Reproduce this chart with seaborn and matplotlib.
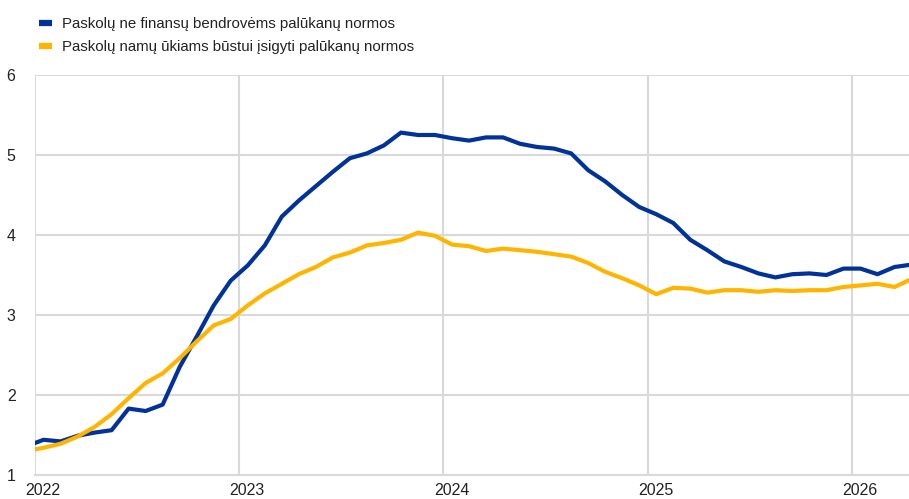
import numpy as np
import pandas as pd
import matplotlib
matplotlib.use("Agg")
import matplotlib.pyplot as plt
import matplotlib.transforms as mtransforms
from matplotlib.lines import Line2D
import seaborn as sns

# Monthly observations, Dec 2021 .. Apr 2026 (plotted mid-month)
start_year = 2021
start_month = 12
blue_label = "Paskolų ne finansų bendrovėms palūkanų normos"
yellow_label = "Paskolų namų ūkiams būstui įsigyti palūkanų normos"

blue_values = [1.36,
    1.44, 1.42, 1.49, 1.53, 1.56, 1.83, 1.80, 1.88, 2.35, 2.73, 3.12, 3.43,
    3.62, 3.87, 4.23, 4.43, 4.61, 4.79, 4.96, 5.02, 5.12, 5.28, 5.25, 5.25,
    5.21, 5.18, 5.22, 5.22, 5.14, 5.10, 5.08, 5.02, 4.81, 4.67, 4.50, 4.35,
    4.26, 4.15, 3.94, 3.81, 3.67, 3.60, 3.52, 3.47, 3.51, 3.52, 3.50, 3.58,
    3.58, 3.51, 3.60, 3.63]
yellow_values = [1.30,
    1.34, 1.39, 1.48, 1.60, 1.76, 1.96, 2.15, 2.27, 2.46, 2.67, 2.87, 2.95,
    3.12, 3.27, 3.39, 3.51, 3.60, 3.72, 3.78, 3.87, 3.90, 3.94, 4.03, 3.99,
    3.88, 3.86, 3.80, 3.83, 3.81, 3.79, 3.76, 3.73, 3.65, 3.54, 3.46, 3.37,
    3.26, 3.34, 3.33, 3.28, 3.31, 3.31, 3.29, 3.31, 3.30, 3.31, 3.31, 3.35,
    3.37, 3.39, 3.35, 3.45]
year_ticks = [2022, 2023, 2024, 2025, 2026]
y_ticks = [1, 2, 3, 4, 5, 6]

n = len(blue_values)
months = np.arange(n)
x = start_year + (start_month - 1 + months + 0.5) / 12.0

df = pd.DataFrame({
    "x": np.concatenate([x, x]),
    "value": blue_values + yellow_values,
    "series": [blue_label] * n + [yellow_label] * n,
})

sns.set_theme(style="white")
plt.rcParams["font.family"] = ["Liberation Sans", "DejaVu Sans"]

fig = plt.figure(figsize=(9.09, 4.99), dpi=100)
ax = fig.add_axes([35 / 909, 24 / 499, 1 - 35 / 909, 400 / 499])

palette = {blue_label: "#003299", yellow_label: "#FFB400"}
sns.lineplot(data=df, x="x", y="value", hue="series", palette=palette,
             linewidth=3.0, ax=ax, legend=False, clip_on=True)

ax.set_xlim(2022, 2026 + 3.35 / 12)
ax.set_ylim(1, 6)
ax.set_xticks(year_ticks)
ax.set_xticklabels([str(t) for t in year_ticks])
ax.set_yticks(y_ticks)
ax.set_yticklabels([str(t) for t in y_ticks])
ax.set_xlabel("")
ax.set_ylabel("")
ax.grid(True, color="#d9d9d9", linewidth=1.5)
ax.set_axisbelow(True)
for s in ["top", "right", "left"]:
    ax.spines[s].set_visible(False)
ax.spines["bottom"].set_color("#d9d9d9")
ax.spines["bottom"].set_linewidth(1.5)
ax.tick_params(axis="both", length=0, labelsize=11.5, colors="#222222")
ax.tick_params(axis="y", pad=14)
ax.tick_params(axis="x", pad=6)
offset = mtransforms.ScaledTranslation(8 / 100, 0, fig.dpi_scale_trans)
for lab in ax.get_xticklabels():
    lab.set_transform(lab.get_transform() + offset)

handles = [Line2D([0], [0], color="#003299", linewidth=4.5, solid_capstyle="butt"),
           Line2D([0], [0], color="#FFB400", linewidth=4.5, solid_capstyle="butt")]
fig.legend(handles, [blue_label, yellow_label], loc="upper left",
           bbox_to_anchor=(39 / 909, 1 - 17 / 499), frameon=False,
           fontsize=10.8, handlelength=0.85, handletextpad=0.7,
           labelspacing=0.62, borderpad=0, borderaxespad=0,
           labelcolor="#222222")

fig.savefig("out.png", dpi=100)
